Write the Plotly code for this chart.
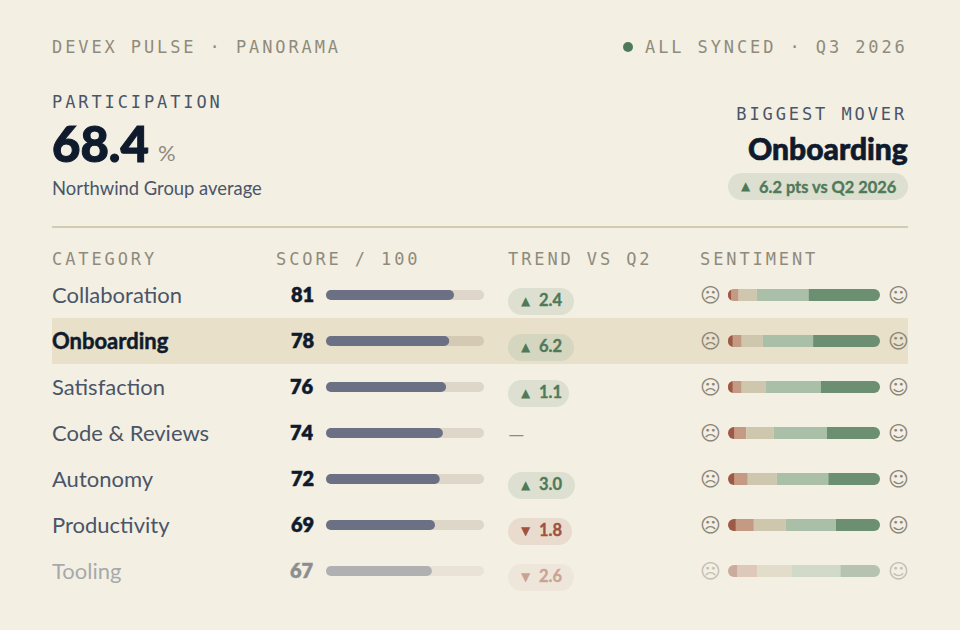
"""DevEx pulse panorama card: scores, trends and sentiment per category."""

from __future__ import annotations

import plotly.graph_objects as go

WIDTH = 960
HEIGHT = 630

CATEGORIES = ["Collaboration", "Onboarding", "Satisfaction", "Code & Reviews", "Autonomy", "Productivity", "Tooling"]
SCORES = [81, 78, 76, 74, 72, 69, 67]
TRENDS = [2.4, 6.2, 1.1, None, 3.0, -1.8, -2.6]
TREND_PILL_WIDTHS = [66, 66, 61, 0, 67, 64, 66]
SENTIMENT_LABELS = ["very negative", "negative", "neutral", "positive", "very positive"]
SENTIMENT_COLORS = ["#9c5945", "#c49a84", "#cfc6ae", "#a9bfa8", "#6c8f71"]
VERY_NEGATIVE = [2, 3, 3, 4, 4, 5, 6]
NEGATIVE = [5, 6, 6, 8, 9, 12, 13]
NEUTRAL = [12, 14, 16, 18, 19, 21, 23]
POSITIVE = [34, 33, 36, 35, 34, 33, 32]
VERY_POSITIVE = [47, 44, 39, 35, 34, 29, 26]
HIGHLIGHT = "Onboarding"
FADED = "Tooling"

BG = "#f3efe3"
INK = "#0f1b2d"
SLATE = "#4a5568"
MUTED = "#8f8b7c"
GREEN = "#4f7a5a"
RED = "#a0523f"
SANS = "Lato"
MONO = "DejaVu Sans Mono"
SYMBOL = "DejaVu Sans"

# plotly rounds only the far end of a bar, so each bar grows both ways from a pivot one radius in
SCORE_PIVOT = 5 / 158 * 100
SENTIMENT_PIVOT = 6 / 152 * 100

# no letter-spacing option in plotly and Lato bold is lighter than the original, so both are set here
POST_SCRIPT = """
document.body.style.margin = '0';
document.body.style.background = '#f3efe3';
document.querySelectorAll('.annotation-text').forEach(function (node) {
  if ((node.style.fontFamily || '').indexOf('Mono') >= 0) {
    node.style.letterSpacing = '2.9px';
  }
  if (parseInt(node.style.fontWeight, 10) >= 700) {
    node.style.stroke = node.style.fill;
    node.style.strokeWidth = (parseFloat(node.style.fontSize) * 0.022) + 'px';
  }
});
"""


def main() -> int:
    fig = go.Figure()
    _add_bars(fig)
    _add_rows(fig)
    _add_header(fig)
    fig.update_layout(
        width=WIDTH,
        height=HEIGHT,
        autosize=False,
        margin={"l": 0, "r": 0, "t": 0, "b": 0},
        paper_bgcolor=BG,
        plot_bgcolor="rgba(0,0,0,0)",
        barmode="relative",
        showlegend=False,
        xaxis={
            "domain": [326 / WIDTH, 484 / WIDTH],
            "range": [-SCORE_PIVOT, 100 - SCORE_PIVOT],
            "visible": False,
            "fixedrange": True,
        },
        xaxis2={"overlaying": "x", "range": [-SCORE_PIVOT, 100 - SCORE_PIVOT], "visible": False, "fixedrange": True},
        xaxis3={
            "domain": [728 / WIDTH, 880 / WIDTH],
            "range": [-SENTIMENT_PIVOT, 100 - SENTIMENT_PIVOT],
            "visible": False,
            "fixedrange": True,
            "anchor": "y",
        },
        yaxis={
            "domain": [1 - 594 / HEIGHT, 1 - 272 / HEIGHT],
            "type": "category",
            "categoryorder": "array",
            "categoryarray": CATEGORIES,
            "range": [6.5, -0.5],
            "visible": False,
            "fixedrange": True,
        },
    )
    fig.write_html("out.html", post_script=POST_SCRIPT, config={"displayModeBar": False})
    return 0


def _fade(row: int) -> float:
    return 0.45 if CATEGORIES[row] == FADED else 1.0


def _bar(fig, values, axis, height, color, radius) -> None:
    fig.add_trace(
        go.Bar(
            x=values,
            y=CATEGORIES,
            orientation="h",
            width=height / 46,
            xaxis=axis,
            yaxis="y",
            marker={
                "color": color,
                "line": {"width": 0},
                "cornerradius": radius,
                "opacity": [_fade(row) for row in range(len(CATEGORIES))],
            },
            hoverinfo="skip",
        )
    )


def _add_bars(fig: go.Figure) -> None:
    for axis, color, values in [("x", "rgba(120,100,85,0.18)", [100] * len(SCORES)), ("x2", "#6b7084", SCORES)]:
        _bar(fig, [-SCORE_PIVOT] * len(values), axis, 10, color, 5)
        _bar(fig, [value - SCORE_PIVOT for value in values], axis, 10, color, 5)

    # left of the pivot: what the first two segments hold there, nearest the pivot first
    very_negative_left = [min(value, SENTIMENT_PIVOT) for value in VERY_NEGATIVE]
    negative_left = [SENTIMENT_PIVOT - value for value in very_negative_left]
    _bar(fig, [-value for value in negative_left], "x3", 12, SENTIMENT_COLORS[1], 6)
    _bar(fig, [-value for value in very_negative_left], "x3", 12, SENTIMENT_COLORS[0], 6)

    # right of the pivot: the rest of those two, then the other segments
    very_negative_right = [value - left for value, left in zip(VERY_NEGATIVE, very_negative_left, strict=True)]
    negative_right = [value - left for value, left in zip(NEGATIVE, negative_left, strict=True)]
    right_side = [very_negative_right, negative_right, NEUTRAL, POSITIVE, VERY_POSITIVE]
    for color, values in zip(SENTIMENT_COLORS, right_side, strict=True):
        _bar(fig, values, "x3", 12, color, 6)


def _add_rows(fig: go.Figure) -> None:
    fig.add_shape(
        type="rect",
        xref="paper",
        yref="y",
        x0=52 / WIDTH,
        x1=908 / WIDTH,
        y0=CATEGORIES.index(HIGHLIGHT) - 0.5,
        y1=CATEGORIES.index(HIGHLIGHT) + 0.5,
        fillcolor="#e8e0c9",
        line={"width": 0},
        layer="below",
    )
    for row, category in enumerate(CATEGORIES):
        opacity = _fade(row)
        bold = category == HIGHLIGHT
        _row_text(fig, category, category, 52, 22, INK if bold else SLATE, opacity, weight=700 if bold else 400, shift=-1)
        _row_text(fig, category, str(SCORES[row]), 314, 20, INK, opacity, anchor="right", weight=800, shift=-1)
        _row_text(fig, category, "\u2639", 710, 20, "#8a8578", opacity, anchor="center", family=SYMBOL)
        _row_text(fig, category, "\u263a", 898, 20, "#8a8578", opacity, anchor="center", family=SYMBOL)
        _add_trend(fig, row, category, opacity)


def _add_trend(fig: go.Figure, row: int, category: str, opacity: float) -> None:
    trend = TRENDS[row]
    if trend is None:
        _row_text(fig, category, "\u2014", 516.5, 21, MUTED, opacity, anchor="center")
        return
    color = GREEN if trend > 0 else RED
    fill = "#dde0d0" if trend > 0 else "#e9dccf"
    if category == HIGHLIGHT:
        fill = "#d5d6bf"
    fig.add_shape(
        type="path",
        path=_pill_path(TREND_PILL_WIDTHS[row], 27, drop=6.5),
        xref="paper",
        yref="y",
        xsizemode="pixel",
        ysizemode="pixel",
        xanchor=508 / WIDTH,
        yanchor=row,
        fillcolor=fill,
        line={"width": 0},
        opacity=opacity,
    )
    glyph = "\u25b2" if trend > 0 else "\u25bc"
    _row_text(fig, category, glyph, 526, 12, color, opacity, anchor="center", family=SYMBOL, shift=6)
    _row_text(fig, category, f"{abs(trend):.1f}", 539, 16.5, color, opacity, weight=700, shift=5)


def _pill_path(width: float, height: float, *, drop: float = 0) -> str:
    radius = height / 2
    top = radius - drop
    bottom = -radius - drop
    knob = radius * 0.45
    return (
        f"M {radius} {top} L {width - radius} {top} "
        f"C {width - knob} {top} {width} {top - knob} {width} {top - radius} "
        f"C {width} {bottom + knob} {width - knob} {bottom} {width - radius} {bottom} "
        f"L {radius} {bottom} "
        f"C {knob} {bottom} 0 {bottom + knob} 0 {bottom + radius} "
        f"C 0 {top - knob} {knob} {top} {radius} {top} Z"
    )


def _row_text(fig, category, text, x, size, color, opacity, *, anchor="left", family=SANS, weight=400, shift=0):
    fig.add_annotation(
        text=text,
        xref="paper",
        yref="y",
        x=x / WIDTH,
        y=category,
        xanchor=anchor,
        yanchor="middle",
        align=anchor,
        yshift=-shift,
        showarrow=False,
        opacity=opacity,
        borderpad=0,
        borderwidth=0,
        font={"family": family, "size": size, "color": color, "weight": weight},
    )


def _page_text(fig, text, x, y, size, color, *, anchor="left", family=SANS, weight=400):
    fig.add_annotation(
        text=text,
        xref="paper",
        yref="paper",
        x=x / WIDTH,
        y=1 - y / HEIGHT,
        xanchor=anchor,
        yanchor="middle",
        align=anchor,
        showarrow=False,
        borderpad=0,
        borderwidth=0,
        font={"family": family, "size": size, "color": color, "weight": weight},
    )


def _add_header(fig: go.Figure) -> None:
    _page_text(fig, "DEVEX PULSE \u00b7 PANORAMA", 52, 47, 17, MUTED, family=MONO)
    _page_text(fig, "ALL SYNCED \u00b7 Q3 2026", 908, 47, 17, MUTED, anchor="right", family=MONO)
    fig.add_shape(
        type="circle",
        xref="paper",
        yref="paper",
        x0=623 / WIDTH,
        x1=633 / WIDTH,
        y0=1 - 52 / HEIGHT,
        y1=1 - 42 / HEIGHT,
        fillcolor=GREEN,
        line={"width": 0},
    )
    _page_text(fig, "PARTICIPATION", 52, 102, 17, SLATE, family=MONO)
    _page_text(fig, "68.4", 52, 143, 49, INK, weight=900)
    _page_text(fig, "%", 158, 152, 22, MUTED)
    _page_text(fig, "Northwind Group average", 52, 188, 18.4, SLATE)
    _page_text(fig, "BIGGEST MOVER", 908, 114, 17, SLATE, anchor="right", family=MONO)
    _page_text(fig, "Onboarding", 908, 148, 30, INK, anchor="right", weight=900)
    fig.add_shape(
        type="path",
        path=_pill_path(180, 27),
        xref="paper",
        yref="paper",
        xsizemode="pixel",
        ysizemode="pixel",
        xanchor=728 / WIDTH,
        yanchor=1 - 186.5 / HEIGHT,
        fillcolor="#dde0d0",
        line={"width": 0},
    )
    _page_text(fig, "\u25b2", 746, 186, 12, GREEN, anchor="center", family=SYMBOL)
    _page_text(fig, "6.2 pts vs Q2 2026", 759, 186, 16.4, GREEN, weight=700)
    fig.add_shape(
        type="line",
        xref="paper",
        yref="paper",
        x0=52 / WIDTH,
        x1=908 / WIDTH,
        y0=1 - 227 / HEIGHT,
        y1=1 - 227 / HEIGHT,
        line={"color": "#d2cbb0", "width": 2},
    )
    for label, x in zip(["CATEGORY", "SCORE / 100", "TREND VS Q2", "SENTIMENT"], [52, 276, 508, 700], strict=True):
        _page_text(fig, label, x, 259, 17, MUTED, family=MONO)


if __name__ == "__main__":
    raise SystemExit(main())
